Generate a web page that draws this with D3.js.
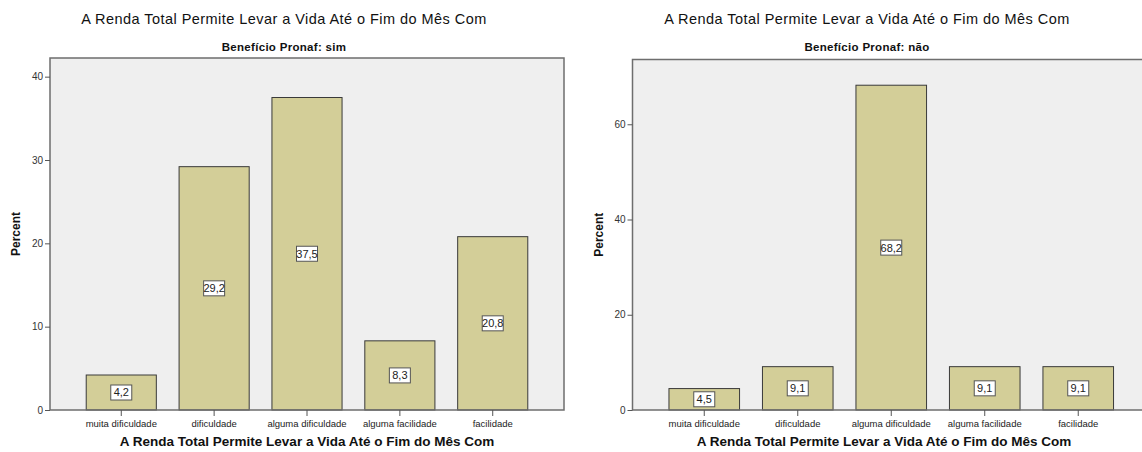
<!DOCTYPE html>
<html>
<head>
<meta charset="utf-8">
<script src="https://cdn.jsdelivr.net/npm/d3@7"></script>
<style>
  html, body { margin: 0; padding: 0; background: #fff; }
  svg { display: block; font-family: "Liberation Sans", Arial, sans-serif; }
</style>
</head>
<body>
<svg id="chart" width="1142" height="452"></svg>
<script>
// Categories of the answer and percentages for each Pronaf group
const categories = ["muita dificuldade", "dificuldade", "alguma dificuldade", "alguma facilidade", "facilidade"];
const valuesSim = [4.2, 29.2, 37.5, 8.3, 20.8];
const valuesNao = [4.5, 9.1, 68.2, 9.1, 9.1];
const ticksSim = [0, 10, 20, 30, 40];
const ticksNao = [0, 20, 40, 60];
const chartTitle = "A Renda Total Permite Levar a Vida Até o Fim do Mês Com";
const axisTitle = "A Renda Total Permite Levar a Vida Até o Fim do Mês Com";
const subtitles = ["Benefício Pronaf: sim", "Benefício Pronaf: não"];

const svg = d3.select("#chart");
const fmt = v => d3.format(".1f")(v).replace(".", ",");

function panel(cfg) {
  const g = svg.append("g");
  const { x0, x1, y0, y1, yMax, values, ticks, subtitle, titleX, axisTitleX } = cfg;

  const x = d3.scaleBand().domain(categories).range([x0, x1])
    .paddingInner(0.245).paddingOuter(0.39);
  const y = d3.scaleLinear().domain([0, yMax]).range([y1, y0]);

  // plot background
  g.append("rect").attr("x", x0).attr("y", y0)
    .attr("width", x1 - x0).attr("height", y1 - y0)
    .attr("fill", "#efefef");

  // bars
  g.selectAll("rect.bar").data(values).join("rect")
    .attr("class", "bar")
    .attr("x", (d, i) => x(categories[i]))
    .attr("y", d => y(d))
    .attr("width", x.bandwidth())
    .attr("height", d => y(0) - y(d))
    .attr("fill", "#d3ce98")
    .attr("stroke", "#3a3a3a")
    .attr("stroke-width", 1);

  // value labels in the middle of each bar
  const lab = g.selectAll("g.lab").data(values).join("g")
    .attr("class", "lab")
    .attr("transform", (d, i) => `translate(${x(categories[i]) + x.bandwidth() / 2},${(y(d) + y(0)) / 2})`);
  lab.append("rect")
    .attr("x", -10.5).attr("y", -7.5).attr("width", 21).attr("height", 15)
    .attr("fill", "#fff").attr("stroke", "#555").attr("stroke-width", 1);
  lab.append("text")
    .attr("text-anchor", "middle").attr("dy", "0.36em")
    .attr("font-size", 11).attr("fill", "#222")
    .text(d => fmt(d));

  // frame
  g.append("rect").attr("x", x0).attr("y", y0)
    .attr("width", x1 - x0).attr("height", y1 - y0)
    .attr("fill", "none").attr("stroke", "#6e6e6e").attr("stroke-width", 1.5);

  // y axis
  const yAxis = d3.axisLeft(y).tickValues(ticks).tickSize(5).tickPadding(2).tickFormat(d3.format("d"));
  const ya = g.append("g").attr("transform", `translate(${x0},0)`).call(yAxis);
  ya.select(".domain").remove();
  ya.selectAll("line").attr("stroke", "#555");
  ya.selectAll("text").attr("font-size", 10).attr("fill", "#333")
    .attr("font-family", "Liberation Sans, Arial, sans-serif");

  // x axis
  const xAxis = d3.axisBottom(x).tickSize(6).tickPadding(4);
  const xa = g.append("g").attr("transform", `translate(0,${y1})`).call(xAxis);
  xa.select(".domain").remove();
  xa.selectAll("line").attr("stroke", "#555");
  xa.selectAll("text").attr("font-size", 9.5).attr("fill", "#222")
    .attr("font-family", "Liberation Sans, Arial, sans-serif");

  // titles
  g.append("text").attr("x", titleX).attr("y", 24)
    .attr("text-anchor", "middle").attr("font-size", 14.5).attr("letter-spacing", 0.45).attr("fill", "#111")
    .text(chartTitle);
  g.append("text").attr("x", titleX).attr("y", 51)
    .attr("text-anchor", "middle").attr("font-size", 11.5).attr("letter-spacing", 0.3)
    .attr("font-weight", "bold").attr("fill", "#111")
    .text(subtitle);
  g.append("text").attr("x", axisTitleX).attr("y", 446)
    .attr("text-anchor", "middle").attr("font-size", 13.5).attr("font-weight", "bold").attr("fill", "#111")
    .text(axisTitle);
  g.append("text")
    .attr("transform", `translate(${x0 - 30},${(y0 + y1) / 2}) rotate(-90)`)
    .attr("text-anchor", "middle").attr("font-size", 12).attr("font-weight", "bold").attr("fill", "#111")
    .text("Percent");
}

panel({ x0: 50, x1: 564, y0: 58, y1: 410, yMax: 42.24, values: valuesSim, ticks: ticksSim,
        subtitle: subtitles[0], titleX: 284, axisTitleX: 307 });
panel({ x0: 632.5, x1: 1150, y0: 59.5, y1: 410, yMax: 73.6, values: valuesNao, ticks: ticksNao,
        subtitle: subtitles[1], titleX: 867, axisTitleX: 884 });
</script>
</body>
</html>
